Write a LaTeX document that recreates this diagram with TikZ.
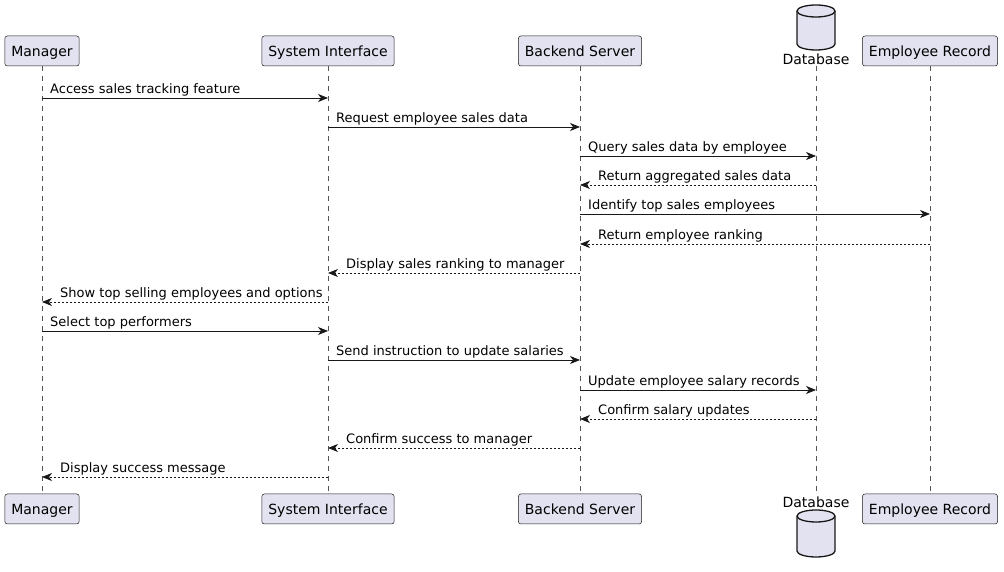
\documentclass[tikz,border=0pt]{standalone}
\usepackage{fontspec}
\setmainfont{DejaVu Sans}
\usepackage{tikz}
\usetikzlibrary{arrows.meta,positioning}

\definecolor{partfill}{HTML}{E2E2F0}
\definecolor{partline}{HTML}{181818}
\definecolor{lifegray}{HTML}{555555}

\begin{document}
\begin{tikzpicture}[x=1pt,y=1pt,
    part/.style={rectangle,draw=partline,fill=partfill,line width=0.5pt,rounded corners=2.5pt,
                 minimum height=30pt,inner xsep=6.5pt,text height=12pt,text depth=1pt,
                 font=\fontsize{14}{16}\selectfont},
    dblabel/.style={inner sep=1pt,font=\fontsize{14}{16}\selectfont},
    cyl/.style={draw=partline,fill=partfill,line width=1.3pt},
    life/.style={draw=lifegray,line width=0.5pt,dash pattern=on 5pt off 5pt},
    call/.style={draw=partline,line width=0.8pt,-{Stealth[length=10pt,width=8pt,inset=3pt]}},
    reply/.style={call,dash pattern=on 2pt off 2pt},
    msglabel/.style={inner sep=0pt,anchor=base west,font=\fontsize{13}{15}\selectfont}]

  \useasboundingbox (0,0) rectangle (1004,572);

  % participants, top row
  \node[part] (man) at (42,521) {Manager};
  \node[part] (sys) at (328,521) {System Interface};
  \node[part] (srv) at (580,521) {Backend Server};
  \node[dblabel] (db) at (816,513) {Database};
  \node[part] (emp) at (930,521) {Employee Record};

  % participants, bottom row
  \node[part] (man2) at (42,63) {Manager};
  \node[part] (sys2) at (328,63) {System Interface};
  \node[part] (srv2) at (580,63) {Backend Server};
  \node[dblabel] (db2) at (816,70) {Database};
  \node[part] (emp2) at (930,63) {Employee Record};

  % database cylinders
  \path[cyl] (797,561) -- (797,528) arc[start angle=180,end angle=360,x radius=19,y radius=6]
    -- (835,561) arc[start angle=0,end angle=180,x radius=19,y radius=6] -- cycle;
  \draw[cyl,fill=none] (797,561) arc[start angle=180,end angle=360,x radius=19,y radius=6];
  \path[cyl] (797,56) -- (797,21) arc[start angle=180,end angle=360,x radius=19,y radius=6]
    -- (835,56) arc[start angle=0,end angle=180,x radius=19,y radius=6] -- cycle;
  \draw[cyl,fill=none] (797,56) arc[start angle=180,end angle=360,x radius=19,y radius=6];

  % lifelines
  \foreach \p in {man,sys,srv,db,emp}
    \draw[life] (\p.south) -- (\p2.north);

  % calls
  \foreach \a/\b/\y/\t in {man/sys/474/Access sales tracking feature,
                           sys/srv/445/Request employee sales data,
                           srv/db/416/Query sales data by employee,
                           srv/emp/358/Identify top sales employees,
                           man/sys/241/Select top performers,
                           sys/srv/212/Send instruction to update salaries,
                           srv/db/182/Update employee salary records}
  {
    \draw[call] (\a |- 0,\y) -- (\b |- 0,\y);
    \node[msglabel] at ([xshift=8pt,yshift=4.5pt]\a |- 0,\y) {\t};
  }

  % replies
  \foreach \a/\b/\y/\t in {db/srv/387/Return aggregated sales data,
                           emp/srv/328/Return employee ranking,
                           srv/sys/299/Display sales ranking to manager,
                           sys/man/270/Show top selling employees and options,
                           db/srv/153/Confirm salary updates,
                           srv/sys/124/Confirm success to manager,
                           sys/man/95/Display success message}
  {
    \draw[reply] (\a |- 0,\y) -- (\b |- 0,\y);
    \node[msglabel] at ([xshift=18pt,yshift=4.5pt]\b |- 0,\y) {\t};
  }

\end{tikzpicture}
\end{document}
